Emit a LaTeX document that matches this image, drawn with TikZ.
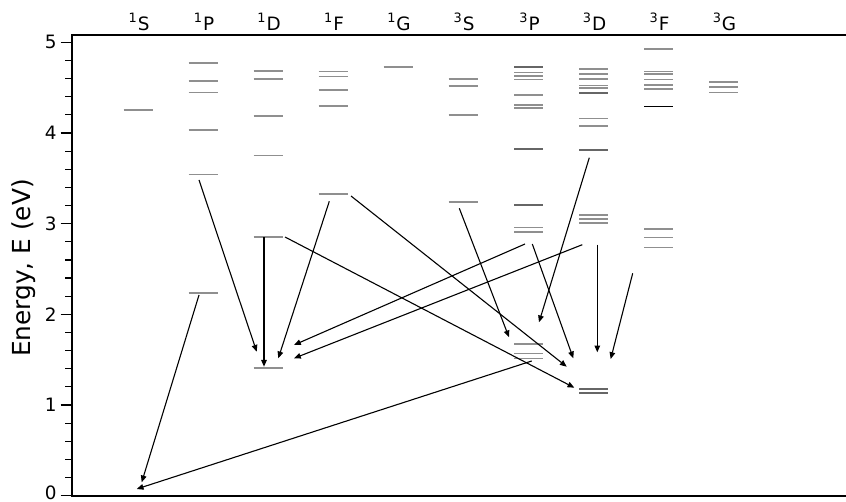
\documentclass[tikz,border=0pt]{standalone}
\usepackage{fontspec}
\setmainfont{DejaVu Sans}
\usetikzlibrary{arrows.meta}
\begin{document}
\begin{tikzpicture}[x=0.5pt,y=-0.5pt,
  lvl/.style={draw=gray!88, line width=0.8pt},
  lvldark/.style={draw=black!60, line width=1.1pt},
  lvlblack/.style={draw=black, line width=0.8pt},
  trans/.style={draw=black, line width=0.55pt, -{Triangle[length=3.4pt,width=2.8pt]}},
  axisline/.style={draw=black, line width=1pt},
  tick/.style={draw=black, line width=0.6pt},
  ticklab/.style={font=\fontsize{9.2}{11}\selectfont, inner sep=0pt, anchor=east},
  collab/.style={font=\fontsize{9.2}{11}\selectfont, inner sep=0pt, anchor=base},
  ylab/.style={font=\fontsize{12.4}{14}\selectfont, inner sep=0pt, rotate=90}]
\useasboundingbox (0,0) rectangle (846,502);

% axes
\draw[axisline] (846,35) -- (72,35) -- (72,496) -- (846,496);
\foreach \e in {0,1,...,5} {
  \draw[tick] (60.7,{495.7-90.68*\e}) -- (72,{495.7-90.68*\e});
}
\foreach \e in {1,...,5} {
  \node[ticklab] (t\e) at (57,{495.7-90.68*\e}) {\e};
}
\node[ticklab, anchor=base east] (t0) at (57,499.5) {0};
\foreach \e in {0.2,0.4,...,4.9} {
  \draw[tick] (65,{495.7-90.68*\e}) -- (72,{495.7-90.68*\e});
}
\node[ylab] (ylabel) at (24,268) {Energy, E (eV)};

% column labels
\foreach \c/\t [count=\i] in {138/\textsuperscript{1}S,203/\textsuperscript{1}P,268/\textsuperscript{1}D,333/\textsuperscript{1}F,398/\textsuperscript{1}G,463/\textsuperscript{3}S,528.5/\textsuperscript{3}P,593.5/\textsuperscript{3}D,658.5/\textsuperscript{3}F,723.5/\textsuperscript{3}G}
  \node[collab] (col\i) at (\c+1,30.5) {\t};

% levels
\foreach \c/\ys in {
  138/{110},
  203/{63.3,81.3,92.7,130.3,174.7,293.3},
  268/{71,79.3,116.3,155.7,237,367.7},
  333/{71.7,76.7,90,106,194.3},
  398/{67.3},
  463/{79.3,86,115.3,202},
  528.5/{72.7,76,79.7,95.3,105,108.3,227.7,232.3,344,353.3,358.3},
  593.5/{69,74,79.3,85.7,88.3,118.7,126.3,215,219,223.3},
  658.5/{49.3,71.7,74.3,79.7,85.3,89,229.3,237.7,247.7},
  723.5/{82.3,87.3,92.7}}
{
  \foreach \y in \ys { \draw[lvl] (\c-14.5,\y) -- (\c+14.5,\y); }
}
\foreach \c/\ys in {528.5/{67.3,148.7,205.3}, 593.5/{93.3,150.3}, 593.5/{389.3,393.3}}
{
  \foreach \y in \ys { \draw[lvldark] (\c-14.5,\y) -- (\c+14.5,\y); }
}
\draw[lvlblack] (644,106.7) -- (673,106.7);

% transition end points
\coordinate (a1s) at (199,180);     \coordinate (a1e) at (256.7,351.7);
\coordinate (a2s) at (264,237.5);   \coordinate (a2e) at (264,366.7);
\coordinate (a3s) at (329.3,201.3); \coordinate (a3e) at (278.3,358.3);
\coordinate (a4s) at (199,295);     \coordinate (a4e) at (141.7,482.3);
\coordinate (a5s) at (531.7,361);   \coordinate (a5e) at (136.7,489);
\coordinate (a6s) at (525,244);     \coordinate (a6e) at (294,345);
\coordinate (a7s) at (582.3,244.7); \coordinate (a7e) at (294,358.3);
\coordinate (a8s) at (285,237);     \coordinate (a8e) at (574.3,387.7);
\coordinate (a9s) at (351,196);     \coordinate (a9e) at (566.7,366.7);
\coordinate (a10s) at (459.3,208.3); \coordinate (a10e) at (509,337.3);
\coordinate (a11s) at (532.3,244);  \coordinate (a11e) at (573.3,358.3);
\coordinate (a12s) at (589.3,157.7); \coordinate (a12e) at (539,322.3);
\coordinate (a13s) at (597.3,244.7); \coordinate (a13e) at (597.3,352.3);
\coordinate (a14s) at (632.7,273.3); \coordinate (a14e) at (610.7,359);

\foreach \k in {1,...,14} \draw[trans] (a\k s) -- (a\k e);
\end{tikzpicture}
\end{document}
